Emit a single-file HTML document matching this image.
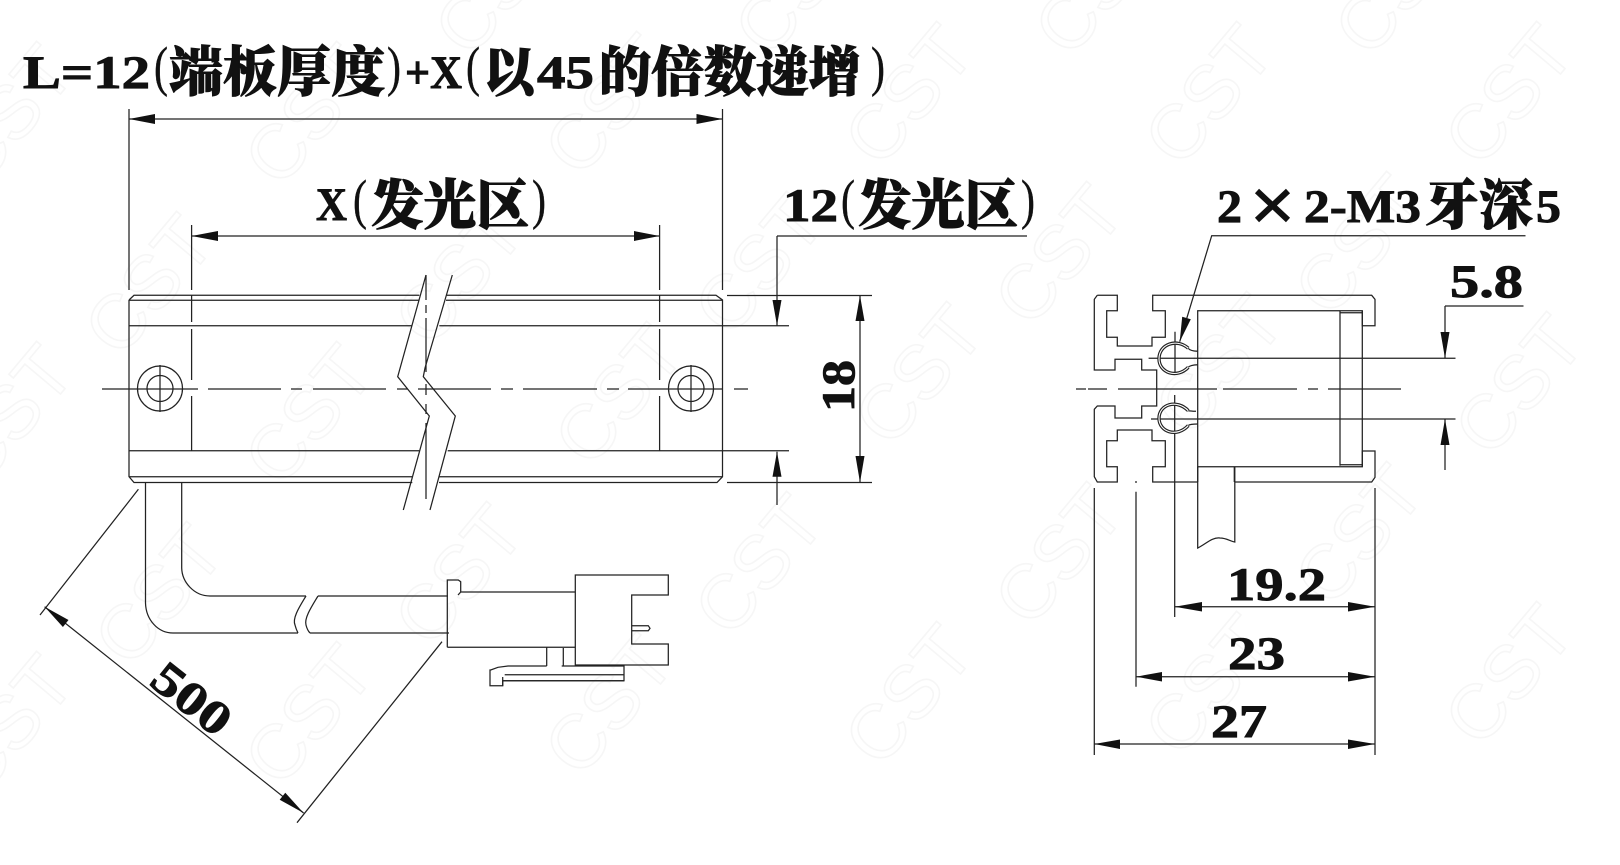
<!DOCTYPE html>
<html lang="zh"><head><meta charset="utf-8"><title>Diagram</title>
<style>
html,body{margin:0;padding:0;background:#fff}
svg{display:block}
.l{fill:none;stroke:#222;stroke-width:1.25}
.a{fill:#111;stroke:none}
.w{fill:none;stroke:#f6f6f6;stroke-width:1.6;font-family:"Liberation Sans",sans-serif;font-size:76px}
.t{font-family:"Liberation Serif",serif;font-weight:700;font-size:47px;fill:#111;stroke:#111;stroke-width:.9}
.c{font-family:"Liberation Serif","Noto Serif CJK SC",serif;font-weight:900;font-size:54px;fill:#111;stroke:#111;stroke-width:1}
.p{font-family:"Liberation Serif",serif;font-weight:400;font-size:55px;fill:#111;stroke:#111;stroke-width:.4}
</style></head><body>
<svg width="1620" height="865" viewBox="0 0 1620 865" xmlns="http://www.w3.org/2000/svg">
<g class="w">
<text transform="translate(470,60) rotate(-50)">CST</text><text transform="translate(770,60) rotate(-50)">CST</text><text transform="translate(1070,60) rotate(-50)">CST</text><text transform="translate(1370,60) rotate(-50)">CST</text>
<text transform="translate(-20,190) rotate(-50)">CST</text><text transform="translate(280,190) rotate(-50)">CST</text><text transform="translate(580,180) rotate(-50)">CST</text><text transform="translate(880,170) rotate(-50)">CST</text><text transform="translate(1180,170) rotate(-50)">CST</text><text transform="translate(1480,170) rotate(-50)">CST</text>
<text transform="translate(120,360) rotate(-50)">CST</text><text transform="translate(430,350) rotate(-50)">CST</text><text transform="translate(730,340) rotate(-50)">CST</text><text transform="translate(1030,330) rotate(-50)">CST</text><text transform="translate(1330,320) rotate(-50)">CST</text>
<text transform="translate(-20,490) rotate(-50)">CST</text><text transform="translate(280,490) rotate(-50)">CST</text><text transform="translate(590,470) rotate(-50)">CST</text><text transform="translate(890,450) rotate(-50)">CST</text><text transform="translate(1190,440) rotate(-50)">CST</text><text transform="translate(1490,460) rotate(-50)">CST</text>
<text transform="translate(130,670) rotate(-50)">CST</text><text transform="translate(430,650) rotate(-50)">CST</text><text transform="translate(730,640) rotate(-50)">CST</text><text transform="translate(1030,630) rotate(-50)">CST</text><text transform="translate(1330,610) rotate(-50)">CST</text>
<text transform="translate(-20,800) rotate(-50)">CST</text><text transform="translate(280,790) rotate(-50)">CST</text><text transform="translate(580,780) rotate(-50)">CST</text><text transform="translate(880,770) rotate(-50)">CST</text><text transform="translate(1180,760) rotate(-50)">CST</text><text transform="translate(1480,750) rotate(-50)">CST</text>
</g>

<!-- Title -->
<text class="t" x="23" y="88" textLength="127" lengthAdjust="spacingAndGlyphs">L=12</text>
<text class="p" x="154" y="85" textLength="14" lengthAdjust="spacingAndGlyphs">(</text>
<text class="c" x="169" y="91" textLength="216" lengthAdjust="spacingAndGlyphs">端板厚度</text>
<text class="p" x="387" y="85" textLength="14" lengthAdjust="spacingAndGlyphs">)</text>
<text class="t" x="405" y="88" textLength="57" lengthAdjust="spacingAndGlyphs">+X</text>
<text class="p" x="466" y="85" textLength="14" lengthAdjust="spacingAndGlyphs">(</text>
<text class="c" x="483" y="91" textLength="52" lengthAdjust="spacingAndGlyphs">以</text>
<text class="t" x="537" y="88" textLength="57" lengthAdjust="spacingAndGlyphs">45</text>
<text class="c" x="599" y="91" textLength="262" lengthAdjust="spacingAndGlyphs">的倍数递增</text>
<text class="p" x="871" y="85" textLength="14" lengthAdjust="spacingAndGlyphs">)</text>

<!-- X label -->
<text class="t" x="316" y="220" textLength="31" lengthAdjust="spacingAndGlyphs">X</text>
<text class="p" x="353" y="218" textLength="14" lengthAdjust="spacingAndGlyphs">(</text>
<text class="c" x="371" y="224" textLength="158" lengthAdjust="spacingAndGlyphs">发光区</text>
<text class="p" x="532" y="218" textLength="14" lengthAdjust="spacingAndGlyphs">)</text>

<!-- 12 label -->
<text class="t" x="783" y="221" textLength="55" lengthAdjust="spacingAndGlyphs">12</text>
<text class="p" x="841" y="218" textLength="14" lengthAdjust="spacingAndGlyphs">(</text>
<text class="c" x="858" y="224" textLength="160" lengthAdjust="spacingAndGlyphs">发光区</text>
<text class="p" x="1021" y="218" textLength="14" lengthAdjust="spacingAndGlyphs">)</text>

<!-- 2x2-M3 label -->
<text class="t" x="1217" y="222" textLength="25" lengthAdjust="spacingAndGlyphs">2</text>
<path d="M1257,191 L1288,220 M1288,191 L1257,220" fill="none" stroke="#111" stroke-width="6"/>
<text class="t" x="1304" y="222" textLength="117" lengthAdjust="spacingAndGlyphs">2-M3</text>
<text class="c" x="1425" y="224" textLength="108" lengthAdjust="spacingAndGlyphs">牙深</text>
<text class="t" x="1536" y="222" textLength="25" lengthAdjust="spacingAndGlyphs">5</text>

<text class="t" x="1450" y="297" textLength="73" lengthAdjust="spacingAndGlyphs">5.8</text>
<text class="t" transform="translate(854,412) rotate(-90)" x="0" y="0" textLength="52" lengthAdjust="spacingAndGlyphs">18</text>
<text class="t" x="1227" y="600" textLength="99" lengthAdjust="spacingAndGlyphs">19.2</text>
<text class="t" x="1228" y="669" textLength="57" lengthAdjust="spacingAndGlyphs">23</text>
<text class="t" x="1211" y="737" textLength="56" lengthAdjust="spacingAndGlyphs">27</text>
<text class="t" transform="translate(182,711) rotate(38.5)" text-anchor="middle" x="0" y="0" textLength="88" lengthAdjust="spacingAndGlyphs">500</text>

<!-- Front view dims -->
<g class="l">
<path d="M129,109V290M722.5,109V290M129,119H722.5"/>
<path d="M191.6,225V290M659.6,225V290M191.6,236H659.6"/>
<!-- rail -->
<path d="M129,300V476.7L134,482.5H412.3M129,300L134,295.3H419.3M446,295.3H716L722.5,300V476.7L717,482.5H439"/>
<path d="M129,300.3H419.3M446,300.3H722.5"/>
<path d="M129,325.7H411.7M439.3,325.7H789"/>
<path d="M129,450.7H419.3M447.7,450.7H789"/>
<path d="M129,476.7H412.3M439,476.7H722.5"/>
<path d="M727,295.5H872M727,482.5H872"/>
<path d="M777,236H1027M777,236V325.7M777,451.7V505"/>
<path d="M860,295.5V482.5"/>
<!-- dashed -->
<path d="M191.6,295V322M191.6,329V380M191.6,396V451M659.6,295V322M659.6,329V380M659.6,396V451"/>
<path d="M102,389H198M208,389H281M291,389H302M313,389H386M397,389H408M418,389H491M501,389H513M523,389H597M607,389H619M628,389H722M734,389H748"/>
<!-- holes -->
<circle cx="160" cy="388.5" r="22.5"/><circle cx="160" cy="388.5" r="13"/>
<path d="M160,365V412"/>
<circle cx="691" cy="388.5" r="22.5"/><circle cx="691" cy="388.5" r="13"/>
<path d="M691,365V412"/>
<!-- break -->
<path d="M426,275L397.7,376.7L429.3,416L403.3,510"/>
<path d="M452.3,275L425,368L423.3,376.7L455.3,416L430,510"/>
<path d="M426,275V300M426,305V313M426,318V372M426,384V395M426,404V414M426,423V499"/>
<!-- cable -->
<path d="M145.5,482V603C146,620 158,633 173,633H298"/>
<path d="M181.7,482V568C182,582 194,596 210,596H306"/>
<path d="M306,596C300,606 292,618 295,625C296,629 297,631 298,633"/>
<path d="M318,596C312,606 304,618 306,625C307,629 308,631 310,633"/>
<path d="M318,596H448M310,633H449"/>
<!-- connector -->
<path d="M447.3,647.3V580H458.3L460.7,581.7V592L458,595M460.7,592H575.3M447.3,647.3H575.3"/>
<path d="M575.3,575H668.3V595H631.7V644H668.3V665H575.3Z"/>
<path d="M631.7,625.7H648.3L650,628.3L648.3,630.7H631.7"/>
<path d="M546.7,647.3V666M563.3,648V666"/>
<path d="M546.7,666H508L498,667.3L490.7,670L490,670L490,685.7H502.7V680.7H624V666H561.7"/>
<path d="M504.7,674.7H624M502.7,677V686M502.7,680.7H624"/>
<!-- 500 dim -->
<path d="M138.4,489.3L40,615M442,641.7L297,822.7M44.6,606.7L303.6,813"/>

<!-- Side profile -->
<path d="M1097.3,295.3L1094.3,299.3V370H1115V359.3H1141.7V370H1156.7V406H1141.7V418H1115V406H1097.3L1094.3,409.3V476.7L1097.3,482H1117.3V466.7H1106.7V440.7H1117.3V430H1152V440.7H1165.3V466.7H1152.7V482H1197.7M1097.3,295.3H1117.3V310.7H1106.7V337.3H1117.3V346H1152V337.3H1165.3V310.7H1152.7V295.3H1371.7L1375,299.3V325.7H1362.3V310.7H1197.7V466.7H1362.3V451H1375V477.3L1371.7,482H1235"/>
<path d="M1197.7,466.7V482M1234.3,466.7V482"/>
<path d="M1340,310.7V465.7M1362.3,310.7V466.7M1340,312.7H1362.3M1340,464.7H1362.3"/>
<path d="M1197.7,466.7V548C1206,544 1212,537 1220,538C1226,538 1230,541 1234.8,542V466.7"/>
<path d="M1148.6,358.3H1455.5M1151,419H1455.5"/>
<path d="M1076,389H1086M1088,389H1107M1118,389H1217M1223,389H1297M1308,389H1318M1328,389H1401"/>
<path d="M1175,331.7V375M1174.7,395V617"/>
<path d="M1525.5,235.7H1211.7L1179.7,341.7"/>
<path d="M1445,306H1523.5M1445,306V358.3M1445,419V470"/>
<path d="M1094.3,488V755M1136,491.7V686.7M1375,488V755"/>
<path d="M1174.7,606.7H1375M1136,676.7H1375M1094.3,744H1375"/>
<path d="M1136,481V483"/>
<!-- C rings -->
<path d="M1188.3,348.3C1177,338 1159,344 1159,358.7C1159,373 1177,379 1188.3,367.3" stroke-width="3.4"/>
<path d="M1188.3,348.3C1177,338 1159,344 1159,358.7C1159,373 1177,379 1188.3,367.3" stroke="#fff" stroke-width="1.1"/>
<path d="M1188.3,348.3Q1190,351 1197.7,351.3M1188.3,367.3Q1190,365 1197.7,364.7"/>
<path d="M1188.3,410.7C1177,399 1159,404 1159,418.3C1159,432 1177,438 1188.3,425.5" stroke-width="3.4"/>
<path d="M1188.3,410.7C1177,399 1159,404 1159,418.3C1159,432 1177,438 1188.3,425.5" stroke="#fff" stroke-width="1.1"/>
<path d="M1188.3,410.7Q1190,411 1196,411.3M1188.3,425.5Q1190,424 1197.7,424"/>
</g>

<!-- Arrowheads -->
<g class="a">
<polygon points="129,119 155,114 155,124"/><polygon points="722.5,119 696.5,114 696.5,124"/>
<polygon points="191.6,236 218,231 218,241"/><polygon points="659.6,236 634,231 634,241"/>
<polygon points="777,325.5 772.5,300 781.5,300"/><polygon points="777,451.7 772.5,476.7 781.5,476.7"/>
<polygon points="860,295.5 855.5,321 864.5,321"/><polygon points="860,482.5 855.5,456 864.5,456"/>
<polygon points="1445,358.3 1440.5,332 1449.5,332"/><polygon points="1445,419 1440.5,445 1449.5,445"/>
<polygon points="1179.7,341.7 1190.8,319.2 1182.2,316.8"/>
<polygon points="44.6,606.7 62.9,627 68.5,620"/><polygon points="303.6,813 279.7,799.7 285.3,792.7"/>
<polygon points="1174.7,606.7 1202,602 1202,611.5"/><polygon points="1375,606.7 1348,602 1348,611.5"/>
<polygon points="1136,676.7 1162,672 1162,681.5"/><polygon points="1375,676.7 1348,672 1348,681.5"/>
<polygon points="1094.3,744 1120,739.5 1120,749"/><polygon points="1375,744 1348,739.5 1348,749"/>
</g>
</svg>
</body></html>
